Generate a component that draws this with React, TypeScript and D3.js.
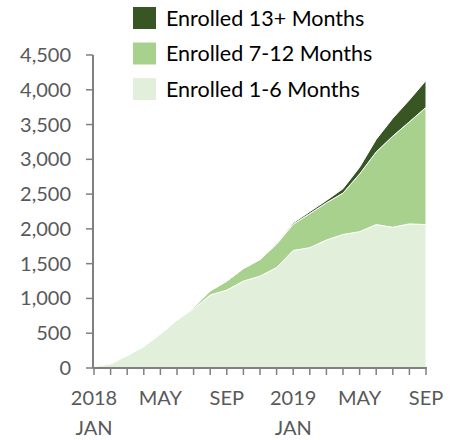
import React from 'react';
import * as d3 from 'd3';

// months Jan 2018 .. Sep 2019
const months = [
  '2018-01', '2018-02', '2018-03', '2018-04', '2018-05', '2018-06', '2018-07',
  '2018-08', '2018-09', '2018-10', '2018-11', '2018-12', '2019-01', '2019-02',
  '2019-03', '2019-04', '2019-05', '2019-06', '2019-07', '2019-08', '2019-09',
];

const enrolled1to6 = [25, 60, 180, 310, 490, 690, 850, 1050, 1120, 1250, 1320, 1445, 1690, 1730, 1840, 1920, 1960, 2062, 2023, 2072, 2062];
const enrolled7to12 = [0, 0, 0, 0, 0, 0, 20, 58, 130, 180, 240, 335, 376, 490, 535, 595, 830, 1045, 1311, 1468, 1686];
const enrolled13plus = [0, 0, 0, 0, 0, 0, 0, 0, 0, 0, 0, 5, 20, 28, 33, 63, 95, 179, 256, 314, 385];

const seriesKeys = ['1-6', '7-12', '13+'];
const seriesLabels = ['Enrolled 1-6 Months', 'Enrolled 7-12 Months', 'Enrolled 13+ Months'];
const seriesColors = ['#E2EFDA', '#A9D18E', '#375623'];

const yTicks = [0, 500, 1000, 1500, 2000, 2500, 3000, 3500, 4000, 4500];
const xLabels = [
  { i: 0, top: '2018', bottom: 'JAN' },
  { i: 4, top: 'MAY', bottom: '' },
  { i: 8, top: 'SEP', bottom: '' },
  { i: 12, top: '2019', bottom: 'JAN' },
  { i: 16, top: 'MAY', bottom: '' },
  { i: 20, top: 'SEP', bottom: '' },
];

const width = 461;
const height = 440;
const font = 'Lato, "Open Sans", sans-serif';
const axisColor = '#808080';
const labelColor = '#595959';

export default function App() {
  const rows = months.map((m, i) => ({
    month: m,
    '1-6': enrolled1to6[i],
    '7-12': enrolled7to12[i],
    '13+': enrolled13plus[i],
  }));

  const x = d3.scalePoint<number>().domain(d3.range(months.length)).range([94, 426]);
  const y = d3.scaleLinear().domain([0, 4500]).range([368, 55]);

  const stacked = d3.stack<any>().keys(seriesKeys)(rows);
  const area = d3
    .area<any>()
    .x((d, i) => x(i) as number)
    .y0((d) => y(d[0]))
    .y1((d) => y(d[1]));

  // legend top-down: 13+, 7-12, 1-6
  const legendOrder = [2, 1, 0];

  return (
    <svg width={width} height={height} style={{ position: 'absolute', left: 0, top: 0 }}>
      <rect width={width} height={height} fill="#fff" />
      {stacked.map((s, k) => (
        <path key={s.key} d={area(s) || ''} fill={seriesColors[k]} stroke="#fff" strokeWidth={1} strokeLinejoin="round" />
      ))}

      {/* y axis */}
      <line x1={93} x2={93} y1={y(4500)} y2={y(0)} stroke={axisColor} strokeWidth={2} />
      {yTicks.map((t) => (
        <g key={t}>
          <line x1={86} x2={93} y1={y(t)} y2={y(t)} stroke={axisColor} strokeWidth={1.5} />
          <text x={71} y={y(t)} dy="0.35em" textAnchor="end" fontFamily={font} fontSize={20} fill={labelColor}>
            {d3.format(',')(t)}
          </text>
        </g>
      ))}

      {/* x axis */}
      <line x1={93} x2={427} y1={y(0)} y2={y(0)} stroke={axisColor} strokeWidth={2} />
      {months.map((m, i) => (
        <line key={m} x1={x(i)} x2={x(i)} y1={y(0)} y2={y(0) + 7} stroke={axisColor} strokeWidth={1.5} />
      ))}
      {xLabels.map((l) => (
        <g key={l.i}>
          <text x={x(l.i)} y={405} textAnchor="middle" fontFamily={font} fontSize={20} fill={labelColor}>
            {l.top}
          </text>
          {l.bottom && (
            <text x={x(l.i)} y={435} textAnchor="middle" fontFamily={font} fontSize={20} fill={labelColor}>
              {l.bottom}
            </text>
          )}
        </g>
      ))}

      {/* legend */}
      {legendOrder.map((k, r) => (
        <g key={k} transform={`translate(133, ${7 + r * 35.5})`}>
          <rect width={23} height={22} fill={seriesColors[k]} />
          <text x={33} y={11} dy="0.35em" fontFamily={font} fontSize={21.5} fill="#000">
            {seriesLabels[k]}
          </text>
        </g>
      ))}
    </svg>
  );
}
